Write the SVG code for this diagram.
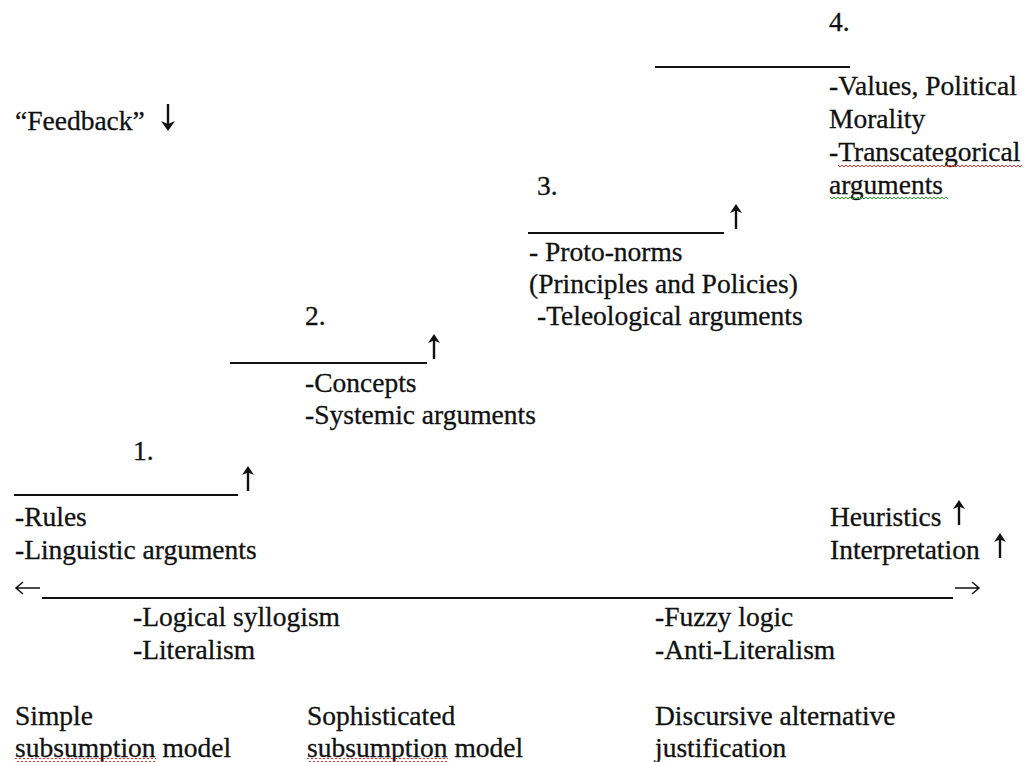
<svg xmlns="http://www.w3.org/2000/svg" width="1026" height="762" viewBox="0 0 1026 762">
<style>
  text { font-family: 'Liberation Serif', serif; font-size: 27.5px; fill: #111; stroke: #111; stroke-width: 0.3; }
  .rule { stroke: #111; stroke-width: 2; fill: none; }
  .shaft { stroke: #111; stroke-width: 2.4; fill: none; }
  .head { fill: #111; stroke: none; }
  .thin { stroke: #111; stroke-width: 1.5; fill: none; }
</style>
<defs>
  <g id="up">
    <line class="shaft" x1="0" y1="6" x2="0" y2="25"/>
    <path class="head" d="M0 0 L6 9 L0 6.5 L-6 9 Z"/>
  </g>
  <g id="down">
    <line class="shaft" x1="0" y1="0" x2="0" y2="20"/>
    <path class="head" d="M0 27 L7 17 L0 20 L-7 17 Z"/>
  </g>
  <pattern id="wave-red" width="4" height="4" patternUnits="userSpaceOnUse">
    <path d="M0 3 L2 1 L4 3" stroke="#e03030" stroke-width="1" fill="none"/>
  </pattern>
  <pattern id="wave-green" width="4" height="4" patternUnits="userSpaceOnUse">
    <path d="M0 3 L2 1 L4 3" stroke="#30a030" stroke-width="1" fill="none"/>
  </pattern>
</defs>
<rect width="1026" height="762" fill="#fff"/>

<g id="feedback">
  <text x="15" y="130">“Feedback”</text>
  <use href="#down" x="168" y="104"/>
</g>

<g id="connectors">
  <line class="rule" x1="655" y1="67" x2="850" y2="67"/>
  <line class="rule" x1="528" y1="233" x2="724" y2="233"/>
  <line class="rule" x1="230" y1="363" x2="427" y2="363"/>
  <line class="rule" x1="14" y1="495" x2="238" y2="495"/>
  <line class="rule" x1="42" y1="598" x2="953" y2="598"/>
  <path class="thin" d="M16 588 H40 M23 582 L16 588 L23 594"/>
  <path class="thin" d="M955 588 H979 M972 582 L979 588 L972 594"/>
</g>

<g id="level4">
  <text x="829" y="31">4.</text>
  <text x="829" y="95">-Values, Political</text>
  <text x="829" y="128">Morality</text>
  <text x="829" y="161">-Transcategorical</text>
  <text x="829" y="194">arguments</text>
</g>

<g id="level3">
  <text x="537" y="195">3.</text>
  <use href="#up" x="736" y="204"/>
  <text x="529" y="261">- Proto-norms</text>
  <text x="529" y="293">(Principles and Policies)</text>
  <text x="537" y="325">-Teleological arguments</text>
</g>

<g id="level2">
  <text x="305" y="325">2.</text>
  <use href="#up" x="434" y="334"/>
  <text x="305" y="392">-Concepts</text>
  <text x="305" y="424">-Systemic arguments</text>
</g>

<g id="level1">
  <text x="133" y="460">1.</text>
  <use href="#up" x="248" y="466"/>
  <text x="15" y="526">-Rules</text>
  <text x="15" y="559">-Linguistic arguments</text>
</g>

<g id="right-side">
  <text x="830" y="526">Heuristics</text>
  <use href="#up" x="959" y="500"/>
  <text x="830" y="559">Interpretation</text>
  <use href="#up" x="1000" y="533"/>
</g>

<g id="left-pole">
  <text x="133" y="626">-Logical syllogism</text>
  <text x="133" y="659">-Literalism</text>
</g>

<g id="right-pole">
  <text x="655" y="626">-Fuzzy logic</text>
  <text x="655" y="659">-Anti-Literalism</text>
</g>

<g id="model-simple">
  <text x="15" y="725">Simple</text>
  <text x="15" y="757">subsumption model</text>
</g>
<g id="model-sophisticated">
  <text x="307" y="725">Sophisticated</text>
  <text x="307" y="757">subsumption model</text>
</g>
<g id="model-discursive">
  <text x="655" y="725">Discursive alternative</text>
  <text x="655" y="757">justification</text>
</g>

<g id="spellcheck-marks">
  <rect x="838" y="164" width="184" height="4" fill="url(#wave-red)"/>
  <rect x="830" y="196" width="118" height="4" fill="url(#wave-green)"/>
  <rect x="15" y="758" width="141" height="4" fill="url(#wave-red)"/>
  <rect x="307" y="758" width="141" height="4" fill="url(#wave-red)"/>
</g>
</svg>
